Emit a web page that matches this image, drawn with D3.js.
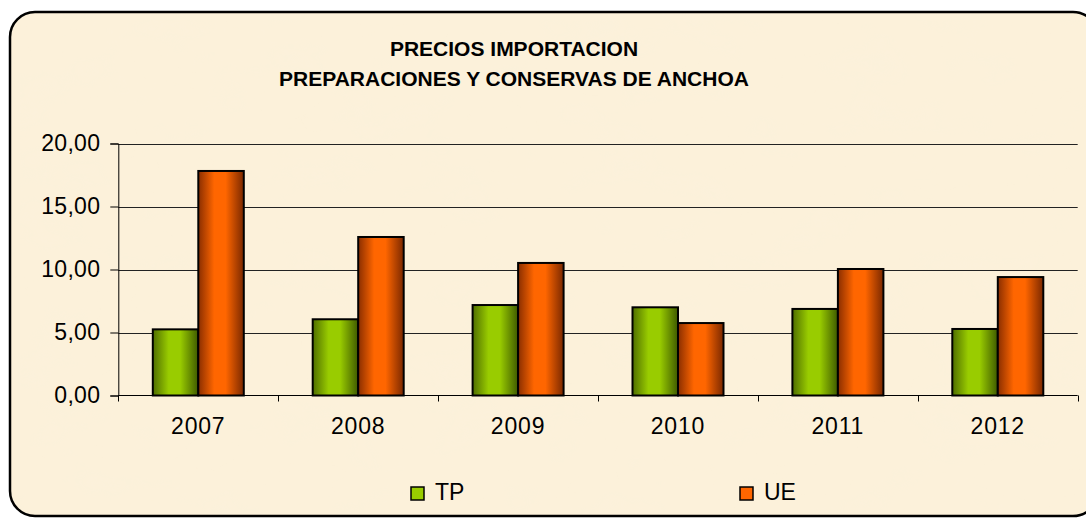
<!DOCTYPE html>
<html>
<head>
<meta charset="utf-8">
<script src="https://cdn.jsdelivr.net/npm/d3@7"></script>
<style>
  body { margin: 0; background: #fff; }
  svg { display: block; font-family: "Liberation Sans", Arial, sans-serif; }
</style>
</head>
<body>
<div id="app"></div>
<script>
var years = ['2007', '2008', '2009', '2010', '2011', '2012'];
var seriesNames = ['TP', 'UE'];
var tpValues = [5.25, 6.05, 7.18, 7.0, 6.87, 5.28];
var ueValues = [17.82, 12.58, 10.52, 5.75, 10.04, 9.4];
var yTicks = [0, 5, 10, 15, 20];
var titleLines = ['PRECIOS IMPORTACION', 'PREPARACIONES Y CONSERVAS DE ANCHOA'];

var width = 1086,
    height = 518;

var svg = d3.select('#app')
    .append('svg')
    .attr('width', width)
    .attr('height', height);

var defs = svg.append('defs');

// parchment texture
var paper = defs.append('filter').attr('id', 'paper')
    .attr('x', 0).attr('y', 0).attr('width', 1).attr('height', 1);
paper.append('feTurbulence')
    .attr('type', 'fractalNoise')
    .attr('baseFrequency', '0.012 0.02')
    .attr('numOctaves', 3)
    .attr('seed', 7);
paper.append('feColorMatrix')
    .attr('type', 'matrix')
    .attr('values', '0 0 0 0 0.95  0 0 0 0 0.88  0 0 0 0 0.72  0.5 0 0 0 -0.2');
paper.append('feComposite').attr('in2', 'SourceGraphic').attr('operator', 'in');

function barGradient(id, edgeL, mid, edgeR) {
    var g = defs.append('linearGradient').attr('id', id)
        .attr('x1', '0%').attr('x2', '100%').attr('y1', '0%').attr('y2', '0%');
    g.append('stop').attr('offset', '0%').attr('stop-color', edgeL);
    g.append('stop').attr('offset', '35%').attr('stop-color', mid);
    g.append('stop').attr('offset', '60%').attr('stop-color', mid);
    g.append('stop').attr('offset', '100%').attr('stop-color', edgeR);
}
barGradient('grad-TP', '#4f6e00', '#99cc00', '#3f5a00');
barGradient('grad-UE', '#8a2e00', '#ff6600', '#7a2800');

var frame = { x: 10, y: 12, w: 1088, h: 504, r: 25 };

svg.append('rect')
    .attr('x', frame.x).attr('y', frame.y)
    .attr('width', frame.w).attr('height', frame.h)
    .attr('rx', frame.r)
    .attr('fill', '#fcf1da');

svg.append('rect')
    .attr('x', frame.x).attr('y', frame.y)
    .attr('width', frame.w).attr('height', frame.h)
    .attr('rx', frame.r)
    .attr('fill', '#fff')
    .attr('filter', 'url(#paper)');

// title
svg.append('text')
    .attr('x', 514)
    .attr('y', 56)
    .attr('text-anchor', 'middle')
    .style('font-size', '21px')
    .style('font-weight', 'bold')
    .selectAll('tspan')
    .data(titleLines)
    .enter()
    .append('tspan')
    .attr('x', 514)
    .attr('dy', function (d, i) { return i === 0 ? 0 : 30; })
    .text(function (d) { return d; });

var plot = { left: 118.3, right: 1077.7, top: 143.5, bottom: 395.5 };

var x0 = d3.scaleBand()
    .domain(years)
    .range([plot.left, plot.right])
    .padding(0);

var x1 = d3.scaleBand()
    .domain(seriesNames)
    .range([34.5, 125.5]);

var y = d3.scaleLinear()
    .domain([0, 20])
    .range([plot.bottom, plot.top]);

// gridlines
svg.append('g')
    .selectAll('line')
    .data(yTicks.filter(function (d) { return d > 0; }))
    .enter()
    .append('line')
    .attr('x1', plot.left)
    .attr('x2', plot.right)
    .attr('y1', function (d) { return Math.round(y(d)) + 0.5; })
    .attr('y2', function (d) { return Math.round(y(d)) + 0.5; })
    .attr('stroke', '#222')
    .attr('stroke-width', 1);

var fmt = function (d) { return d3.format('.2f')(d).replace('.', ','); };

var yAxis = svg.append('g')
    .attr('transform', 'translate(' + plot.left + ',0)')
    .call(d3.axisLeft(y).tickValues(yTicks).tickFormat(fmt).tickSize(8).tickPadding(10));
yAxis.select('.domain').attr('stroke', '#000');
yAxis.selectAll('.tick line').attr('stroke', '#000');
yAxis.selectAll('text')
    .attr('fill', '#000')
    .style('font-size', '23px')
    .style('letter-spacing', '0.3px')
    .style('font-family', '"Liberation Sans", Arial, sans-serif');

// bars
var data = years.map(function (yr, i) {
    return { year: yr, values: [
        { key: 'TP', value: tpValues[i] },
        { key: 'UE', value: ueValues[i] }
    ] };
});

svg.append('g')
    .selectAll('g')
    .data(data)
    .enter()
    .append('g')
    .attr('transform', function (d) { return 'translate(' + x0(d.year) + ',0)'; })
    .selectAll('rect')
    .data(function (d) { return d.values; })
    .enter()
    .append('rect')
    .attr('x', function (d) { return x1(d.key); })
    .attr('y', function (d) { return y(d.value); })
    .attr('width', x1.bandwidth())
    .attr('height', function (d) { return plot.bottom - y(d.value); })
    .attr('fill', function (d) { return 'url(#grad-' + d.key + ')'; })
    .attr('stroke', '#000')
    .attr('stroke-width', 2);

// x axis
var xAxisG = svg.append('g');
xAxisG.append('line')
    .attr('x1', plot.left).attr('x2', plot.right)
    .attr('y1', plot.bottom).attr('y2', plot.bottom)
    .attr('stroke', '#000');
var bounds = years.map(function (d) { return x0(d); }).concat([plot.right]);
xAxisG.selectAll('.xt')
    .data(bounds)
    .enter()
    .append('line')
    .attr('class', 'xt')
    .attr('x1', function (d) { return Math.round(d) + 0.5; })
    .attr('x2', function (d) { return Math.round(d) + 0.5; })
    .attr('y1', plot.bottom)
    .attr('y2', plot.bottom + 6)
    .attr('stroke', '#000');
xAxisG.selectAll('text')
    .data(years)
    .enter()
    .append('text')
    .attr('x', function (d) { return x0(d) + x0.bandwidth() / 2; })
    .attr('y', 434)
    .attr('text-anchor', 'middle')
    .style('font-size', '23px')
    .style('letter-spacing', '0.8px')
    .text(function (d) { return d; });

// legend
var legendX = { TP: 411, UE: 740 };
var legend = svg.append('g')
    .selectAll('g')
    .data(seriesNames)
    .enter()
    .append('g')
    .attr('transform', function (d) { return 'translate(' + legendX[d] + ',487)'; });
legend.append('rect')
    .attr('width', 13)
    .attr('height', 13)
    .attr('fill', function (d) { return d === 'TP' ? '#99cc00' : '#ff6600'; })
    .attr('stroke', '#000')
    .attr('stroke-width', 1.5);
legend.append('text')
    .attr('x', 24)
    .attr('y', 13)
    .style('font-size', '23px')
    .text(function (d) { return d; });

// frame border
svg.append('rect')
    .attr('x', frame.x).attr('y', frame.y)
    .attr('width', frame.w).attr('height', frame.h)
    .attr('rx', frame.r)
    .attr('fill', 'none')
    .attr('stroke', '#000')
    .attr('stroke-width', 2.5);
</script>
</body>
</html>
